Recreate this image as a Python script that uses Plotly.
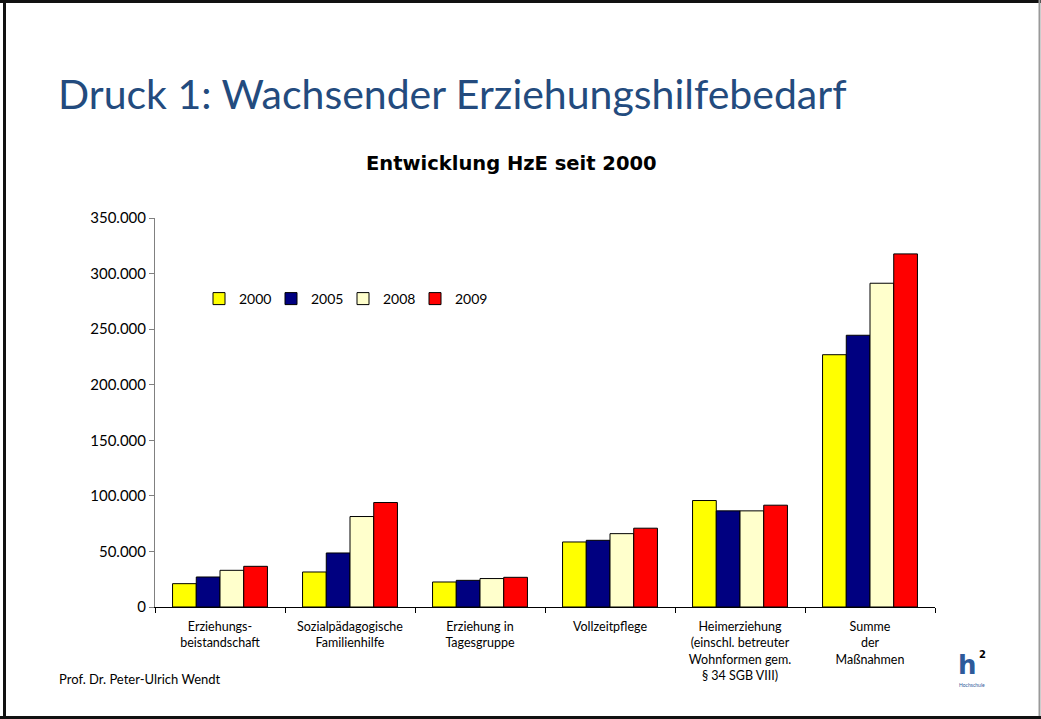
import plotly.graph_objects as go

# Data
categories = [
    "Erziehungs-<br>beistandschaft",
    "Sozialpädagogische<br>Familienhilfe",
    "Erziehung in<br>Tagesgruppe",
    "Vollzeitpflege",
    "Heimerziehung<br>(einschl. betreuter<br>Wohnformen gem.<br>§ 34 SGB VIII)",
    "Summe<br>der<br>Maßnahmen",
]
years = ["2000", "2005", "2008", "2009"]
values_2000 = [21000, 31500, 22500, 58500, 95800, 227000]
values_2005 = [27000, 48600, 24000, 60000, 86500, 244500]
values_2008 = [33000, 81400, 25600, 66000, 86500, 291300]
values_2009 = [36600, 94000, 26700, 70900, 91600, 317700]
series = [values_2000, values_2005, values_2008, values_2009]
colors = ["#FFFF00", "#000080", "#FFFFCC", "#FF0000"]

W, H = 1041, 719
L, R, T, B = 155, 106, 218, 112
PW, PH = W - L - R, H - T - B


def px(x):
    return (x - L) / PW


def py(y):
    return (H - B - y) / PH


FONT = "Lato, 'Open Sans', sans-serif"

fig = go.Figure()
for name, vals, col in zip(years, series, colors):
    fig.add_trace(go.Bar(
        name=name,
        x=categories,
        y=vals,
        marker_color=col,
        marker_line_color="#000000",
        marker_line_width=1,
    ))

# slide frame
frame = [
    dict(x0=px(0), x1=px(W), y0=py(1.5), y1=py(1.5), c="#111111", w=3),
    dict(x0=px(4.5), x1=px(4.5), y0=py(0), y1=py(H), c="#111111", w=3),
    dict(x0=px(1039.5), x1=px(1039.5), y0=py(0), y1=py(H), c="#999999", w=2),
    dict(x0=px(0), x1=px(W), y0=py(717.5), y1=py(717.5), c="#111111", w=3),
]
shapes = [dict(type="line", xref="paper", yref="paper", x0=f["x0"], x1=f["x1"],
               y0=f["y0"], y1=f["y1"], line=dict(color=f["c"], width=f["w"]))
          for f in frame]

annotations = [
    dict(text="Druck 1: Wachsender Erziehungshilfebedarf", x=px(56), y=py(94),
         xanchor="left", yanchor="middle",
         font=dict(family=FONT, size=41, color="#234B7E")),
    dict(text="<b>Entwicklung HzE seit 2000</b>", x=px(511), y=py(163),
         xanchor="center", yanchor="middle",
         font=dict(family="'DejaVu Sans', sans-serif", size=19.5, color="#000000")),
    dict(text="Prof. Dr. Peter-Ulrich Wendt", x=px(57), y=py(679),
         xanchor="left", yanchor="middle",
         font=dict(family=FONT, size=13, color="#000000")),
    dict(text="<b>h</b>", x=px(967), y=py(665), xanchor="center", yanchor="middle",
         font=dict(family="'DejaVu Sans', sans-serif", size=26, color="#2E5A9A")),
    dict(text="<b>2</b>", x=px(982), y=py(654), xanchor="center", yanchor="middle",
         font=dict(family="'DejaVu Sans', sans-serif", size=10, color="#000000")),
    dict(text="Hochschule", x=px(972), y=py(685), xanchor="center", yanchor="middle",
         font=dict(family=FONT, size=5, color="#2E5A9A")),
]
for a in annotations:
    a.update(xref="paper", yref="paper", showarrow=False)

fig.update_layout(
    width=W, height=H,
    margin=dict(l=L, r=R, t=T, b=B, autoexpand=False),
    paper_bgcolor="white", plot_bgcolor="white",
    barmode="group", bargap=0.27, bargroupgap=0,
    separators=",.",
    font=dict(family=FONT, color="#000000"),
    showlegend=True,
    legend=dict(orientation="h", x=px(199), y=py(299), xanchor="left", yanchor="middle",
                font=dict(size=14, family=FONT), bgcolor="rgba(0,0,0,0)",
                traceorder="normal", itemwidth=30,
                entrywidth=27, entrywidthmode="pixels"),
    xaxis=dict(showline=True, linecolor="#000000", linewidth=1,
               ticks="outside", tickson="boundaries", ticklen=5, tickcolor="#000000",
               tickfont=dict(size=12.5, family=FONT), ticklabelstandoff=8,
               showgrid=False),
    yaxis=dict(range=[0, 350000], dtick=50000, tickformat=",d",
               showline=True, linecolor="#808080", linewidth=1,
               ticks="outside", ticklen=5, tickcolor="#808080",
               tickfont=dict(size=15, family=FONT), showgrid=False, zeroline=False),
    shapes=shapes,
    annotations=annotations,
)

# the page keeps the browser's default body margin otherwise
fig.write_html("out.html", config={"displayModeBar": False},
               post_script="document.body.style.margin='0';")
